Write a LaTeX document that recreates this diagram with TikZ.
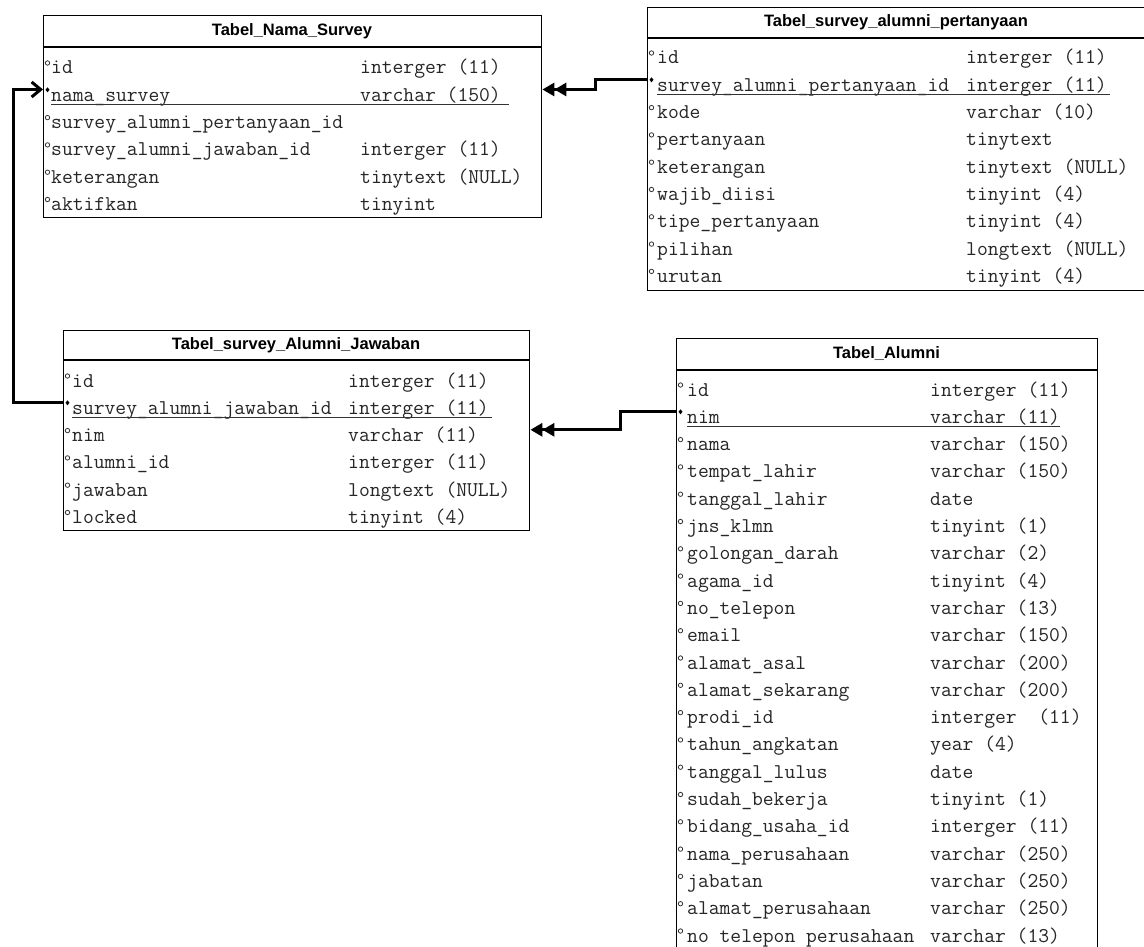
\documentclass[tikz,border=0pt]{standalone}
\usepackage{fontspec}
\setmainfont{Liberation Serif}
\setsansfont{Liberation Sans}
\usetikzlibrary{arrows.meta}
\tikzset{
 tbl/.style={draw=black, line width=1.4pt, fill=white, inner sep=0pt, anchor=north west},
 hline/.style={line width=1.4pt},
 hdr/.style={font=\sffamily\bfseries\fontsize{16.5}{20}\selectfont, inner sep=0pt},
 cell/.style={font=\ttfamily\fontsize{21}{24}\selectfont, text=black!85, inner sep=0pt, anchor=base west, text height=11.6pt, text depth=4pt},
 conn/.style={line width=3pt, line join=miter},
 many/.style={-{Triangle[length=12pt,width=13pt]Triangle[length=12pt,width=13pt]}},
 one/.style={-{Straight Barb[length=9pt,width=15pt]}},
 attr/.style={draw=black!80, line width=0.8pt},
 uline/.style={line width=1.2pt, black!80},
}
\newcommand\tablerows[6]{%
 \foreach \n/\t [count=\i from 0] in {#6} {
   \pgfmathsetmacro\yy{#5+\i*27.3}
   \node[cell] (#1n\i) at (#3,\yy) {\n};
   \node[cell] (#1t\i) at (#4,\yy) {\t};
   \ifnum\i=1
     \fill[black] (#2+4.5,\yy-14) -- ++(2,2.5) -- ++(-2,2.5) -- ++(-2,-2.5) -- cycle;
   \else
     \draw[attr] (#2+4.5,\yy-11) circle[radius=2.2pt];
   \fi
 }}
\begin{document}
\begin{tikzpicture}[x=1pt,y=-1pt]
\fill[white] (0,0) rectangle (1144,947);
\useasboundingbox (0,0) rectangle (1144,947);

% Tabel_Nama_Survey
\node[tbl, minimum width=498pt, minimum height=202pt] (t1) at (43,15) {};
\draw[hline] (43,47) -- (541,47);
\node[hdr] (t1h) at (292,31) {Tabel\_Nama\_Survey};
\tablerows{t1}{43}{51}{360}{74}{id/interger (11),nama\_survey/varchar (150),survey\_alumni\_pertanyaan\_id/,survey\_alumni\_jawaban\_id/interger (11),keterangan/tinytext (NULL),aktifkan/tinyint}
\draw[uline] ([yshift=-3pt]t1n1.base west) -- ([xshift=8pt,yshift=-3pt]t1t1.base east);

% Tabel_survey_alumni_pertanyaan
\node[tbl, minimum width=499pt, minimum height=283pt] (t2) at (647,7) {};
\draw[hline] (647,38) -- (1146,38);
\node[hdr] (t2h) at (896,22.5) {Tabel\_survey\_alumni\_pertanyaan};
\tablerows{t2}{647}{657}{966}{64}{id/interger (11),survey\_alumni\_pertanyaan\_id/interger (11),kode/varchar (10),pertanyaan/tinytext,keterangan/tinytext (NULL),wajib\_diisi/tinyint (4),tipe\_pertanyaan/tinyint (4),pilihan/longtext (NULL),urutan/tinyint (4)}
\draw[uline] ([yshift=-3pt]t2n1.base west) -- ([xshift=3pt,yshift=-3pt]t2t1.base east);

% Tabel_survey_Alumni_Jawaban
\node[tbl, minimum width=466pt, minimum height=200pt] (t3) at (63,330) {};
\draw[hline] (63,360) -- (529,360);
\node[hdr] (t3h) at (296,345) {Tabel\_survey\_Alumni\_Jawaban};
\tablerows{t3}{63}{72}{348}{387}{id/interger (11),survey\_alumni\_jawaban\_id/interger (11),nim/varchar (11),alumni\_id/interger (11),jawaban/longtext (NULL),locked/tinyint (4)}
\draw[uline] ([yshift=-3pt]t3n1.base west) -- ([xshift=3pt,yshift=-3pt]t3t1.base east);

% Tabel_Alumni
\node[tbl, minimum width=421pt, minimum height=640pt] (t4) at (676,338) {};
\draw[hline] (676,370) -- (1097,370);
\node[hdr] (t4h) at (886.5,354) {Tabel\_Alumni};
\tablerows{t4}{676}{687}{930}{396}{id/interger (11),nim/varchar (11),nama/varchar (150),tempat\_lahir/varchar (150),tanggal\_lahir/date,jns\_klmn/tinyint (1),golongan\_darah/varchar (2),agama\_id/tinyint (4),no\_telepon/varchar (13),email/varchar (150),alamat\_asal/varchar (200),alamat\_sekarang/varchar (200),prodi\_id/interger\ \ (11),tahun\_angkatan/year (4),tanggal\_lulus/date,sudah\_bekerja/tinyint (1),bidang\_usaha\_id/interger (11),nama\_perusahaan/varchar (250),jabatan/varchar (250),alamat\_perusahaan/varchar (250),no telepon perusahaan/varchar (13)}
\draw[uline] ([yshift=-3pt]t4n1.base west) -- ([yshift=-3pt]t4t1.base east);

% connectors
\coordinate (lb) at (13,0);
\draw[conn, many] (t2.west |- t2n1.north) -- ++(-52,0) |- (t1.east |- t1n1.north);
\draw[conn, many] (t4.west |- t4n1.north) -- ++(-56,0) |- (t3.east |- t3n2.north);
\draw[conn, one] (t3.west |- t3n1.north) -- (lb |- t3n1.north) -- (lb |- t1n1.north) -- (t1.west |- t1n1.north);
\end{tikzpicture}
\end{document}
